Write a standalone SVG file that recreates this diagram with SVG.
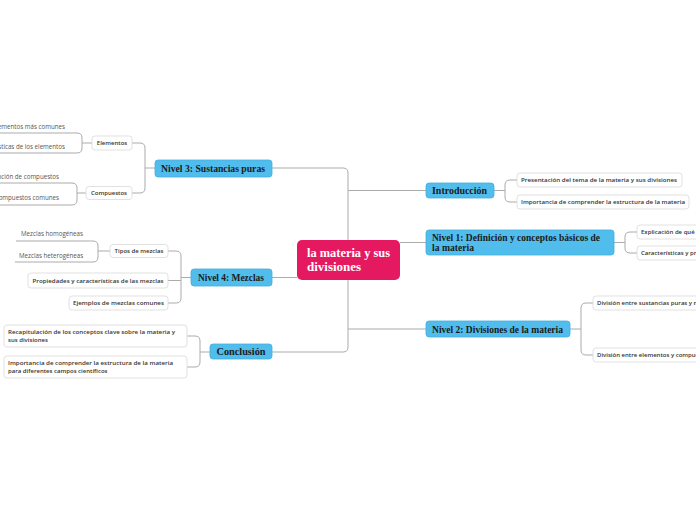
<svg xmlns="http://www.w3.org/2000/svg" width="696" height="520" viewBox="0 0 696 520">
<style>
.c{fill:none;stroke:#ababab;stroke-width:1}
.b{fill:#50bdec;stroke:#43aee0;stroke-width:0.8}
.w{fill:#fff;stroke:#d9d9d9;stroke-width:0.8}
.t{font-family:"Liberation Serif","DejaVu Serif",serif;font-weight:bold;fill:#1b1b1b;font-size:10px}
.s{font-family:"Open Sans","Noto Sans",sans-serif;font-weight:600;fill:#333;font-size:6px}
.p{font-family:"Open Sans","Noto Sans",sans-serif;fill:#555;font-size:6.2px}
.m{font-family:"Liberation Serif","DejaVu Serif",serif;font-weight:bold;fill:#fff;font-size:12px}
</style>
<rect width="696" height="520" fill="#fff"/>
<g id="connectors">
<path class="c" d="M272,168 H343 Q348,168 348,173 V347 Q348,352 343,352 H272"/>
<path class="c" d="M348,190.5 H426"/>
<path class="c" d="M400,242.5 H426"/>
<path class="c" d="M348,329 H426"/>
<path class="c" d="M272,277.5 H297"/>
<path class="c" d="M494,190.5 H505 M517,180 H510 Q505,180 505,185 V197 Q505,202 510,202 H517"/>
<path class="c" d="M614,242.5 H625 M637,232 H630 Q625,232 625,237 V248 Q625,253 630,253 H637"/>
<path class="c" d="M570,329 H581 M593,303 H586 Q581,303 581,308 V350 Q581,355 586,355 H593"/>
<path class="c" d="M155,168 H145 M132,143 H140 Q145,143 145,148 V188 Q145,193 140,193 H132"/>
<path class="c" d="M92,143 H82 M0,133 H77 Q82,133 82,138 V148 Q82,153 77,153 H0"/>
<path class="c" d="M86,193 H77 M0,183 H72 Q77,183 77,188 V200 Q77,205 72,205 H0"/>
<path class="c" d="M191,277.5 H181 M168,251 H176 Q181,251 181,256 V298 Q181,303 176,303 H168 M168,280.5 H181"/>
<path class="c" d="M110,251 H98 M16,241 H93 Q98,241 98,246 V257 Q98,262 93,262 H15"/>
<path class="c" d="M210,352 H200 M187,336 H195 Q200,336 200,341 V362 Q200,367 195,367 H187"/>
</g>
<g id="main">
<rect x="297" y="240" width="103" height="40" rx="5" fill="#e5195f"/>
<text class="m" x="307" y="256.5" textLength="83" lengthAdjust="spacingAndGlyphs">la materia y sus</text>
<text class="m" x="307" y="270.5" textLength="54" lengthAdjust="spacingAndGlyphs">divisiones</text>
</g>
<g id="introduccion">
<rect class="b" x="426" y="183" width="68" height="15" rx="3"/>
<text class="t" x="432" y="194" textLength="55" lengthAdjust="spacingAndGlyphs">Introducción</text>
</g>
<g id="intro1"><rect class="w" x="517" y="173" width="165" height="14" rx="3"/><text class="s" x="521" y="182.2" textLength="156" lengthAdjust="spacingAndGlyphs">Presentación del tema de la materia y sus divisiones</text></g>
<g id="intro2"><rect class="w" x="517" y="195" width="172" height="14" rx="3"/><text class="s" x="521" y="204.2" textLength="164" lengthAdjust="spacingAndGlyphs">Importancia de comprender la estructura de la materia</text></g>
<g id="nivel1">
<rect class="b" x="426" y="230" width="188" height="25" rx="3"/>
<text class="t" x="432" y="241" textLength="168" lengthAdjust="spacingAndGlyphs">Nivel 1: Definición y conceptos básicos de</text>
<text class="t" x="432" y="251" textLength="42" lengthAdjust="spacingAndGlyphs">la materia</text>
</g>
<g id="n1a"><rect class="w" x="637" y="225" width="70" height="14" rx="3"/><text class="s" x="641" y="234.2">Explicación de qué es la materia</text></g>
<g id="n1b"><rect class="w" x="637" y="246" width="70" height="14" rx="3"/><text class="s" x="641" y="255.2">Características y propiedades de la materia</text></g>
<g id="nivel2">
<rect class="b" x="426" y="321" width="144" height="16" rx="3"/>
<text class="t" x="432" y="332.5" textLength="131" lengthAdjust="spacingAndGlyphs">Nivel 2: Divisiones de la materia</text>
</g>
<g id="n2a"><rect class="w" x="593" y="296" width="110" height="14" rx="3"/><text class="s" x="597" y="305.2">División entre sustancias puras y mezclas</text></g>
<g id="n2b"><rect class="w" x="593" y="348" width="110" height="14" rx="3"/><text class="s" x="597" y="357.2">División entre elementos y compuestos</text></g>
<g id="nivel3">
<rect class="b" x="155" y="160" width="117" height="17" rx="3"/>
<text class="t" x="161" y="171.5" textLength="104" lengthAdjust="spacingAndGlyphs">Nivel 3: Sustancias puras</text>
</g>
<g id="elementos"><rect class="w" x="92" y="136" width="40" height="14" rx="3"/><text class="s" x="112" y="145.2" text-anchor="middle">Elementos</text></g>
<g id="el1"><text class="p" x="65" y="128.5" text-anchor="end">Elementos más comunes</text></g>
<g id="el2"><text class="p" x="65" y="149" text-anchor="end">Características de los elementos</text></g>
<g id="compuestos"><rect class="w" x="86" y="186.5" width="46" height="13" rx="3"/><text class="s" x="109" y="195.2" text-anchor="middle">Compuestos</text></g>
<g id="co1"><text class="p" x="59" y="178.5" text-anchor="end">Descripción de compuestos</text></g>
<g id="co2"><text class="p" x="59" y="200" text-anchor="end">Ejemplos de compuestos comunes</text></g>
<g id="nivel4">
<rect class="b" x="191" y="269" width="81" height="17" rx="3"/>
<text class="t" x="198" y="280.5" textLength="66" lengthAdjust="spacingAndGlyphs">Nivel 4: Mezclas</text>
</g>
<g id="tipos"><rect class="w" x="110" y="244.5" width="58" height="13" rx="3"/><text class="s" x="139" y="253.2" text-anchor="middle">Tipos de mezclas</text></g>
<g id="homo"><text class="p" x="21" y="236">Mezclas homogéneas</text></g>
<g id="hetero"><text class="p" x="19" y="258">Mezclas heterogéneas</text></g>
<g id="propiedades"><rect class="w" x="28" y="273" width="140" height="15" rx="3"/><text class="s" x="98" y="282.7" text-anchor="middle" textLength="131" lengthAdjust="spacingAndGlyphs">Propiedades y características de las mezclas</text></g>
<g id="ejemplos"><rect class="w" x="69" y="296" width="99" height="14" rx="3"/><text class="s" x="118.5" y="305.2" text-anchor="middle" textLength="91" lengthAdjust="spacingAndGlyphs">Ejemplos de mezclas comunes</text></g>
<g id="conclusion">
<rect class="b" x="210" y="344" width="62" height="15" rx="3"/>
<text class="t" x="216.5" y="355" textLength="49" lengthAdjust="spacingAndGlyphs">Conclusión</text>
</g>
<g id="con1"><rect class="w" x="4" y="325" width="183" height="22" rx="3"/><text class="s" x="8" y="333.5" textLength="167" lengthAdjust="spacingAndGlyphs">Recapitulación de los conceptos clave sobre la materia y</text><text class="s" x="8" y="342">sus divisiones</text></g>
<g id="con2"><rect class="w" x="4" y="356" width="183" height="22" rx="3"/><text class="s" x="8" y="364.5" textLength="165" lengthAdjust="spacingAndGlyphs">Importancia de comprender la estructura de la materia</text><text class="s" x="8" y="373">para diferentes campos científicos</text></g>
</svg>
